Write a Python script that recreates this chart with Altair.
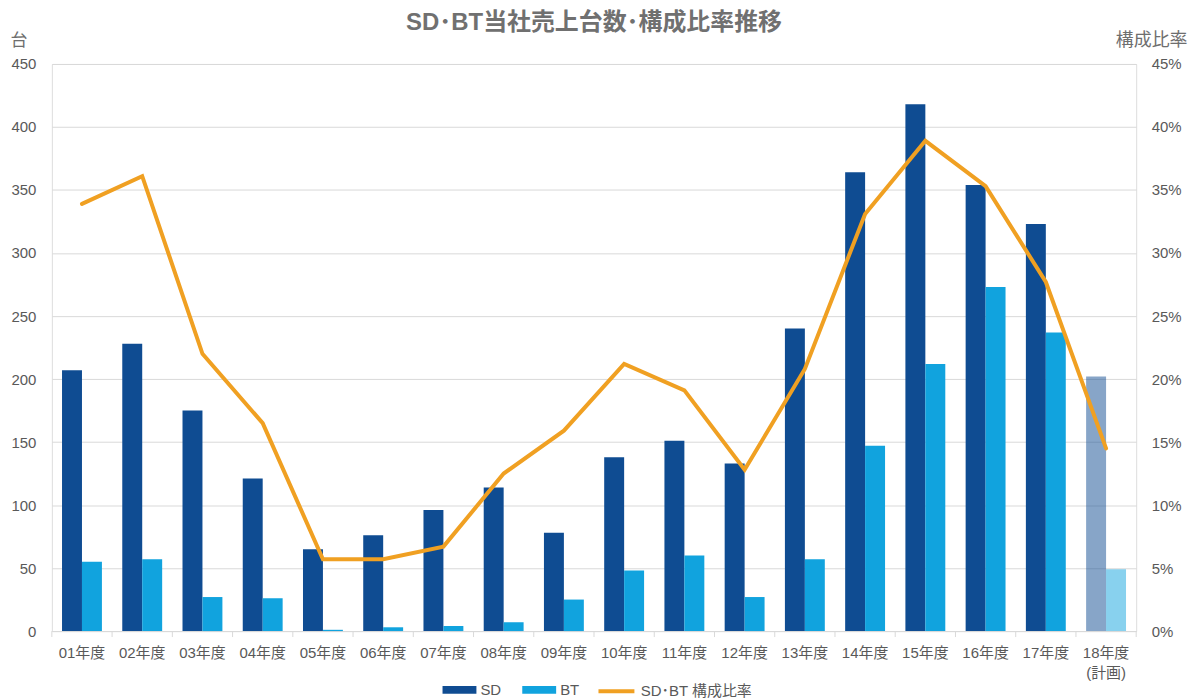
import altair as alt
import pandas as pd

cats = ["01年度", "02年度", "03年度", "04年度", "05年度", "06年度", "07年度", "08年度", "09年度",
        "10年度", "11年度", "12年度", "13年度", "14年度", "15年度", "16年度", "17年度", "18年度|(計画)"]
sd = [207, 228, 175, 121, 65, 76, 96, 114, 78, 138, 151, 133, 240, 364, 418, 354, 323, 202]
bt = [55, 57, 27, 26, 1, 3, 4, 7, 25, 48, 60, 27, 57, 147, 212, 273, 237, 49]
ratio = [0.339, 0.361, 0.220, 0.165, 0.057, 0.057, 0.067, 0.125, 0.159, 0.212, 0.191, 0.128,
         0.208, 0.331, 0.389, 0.353, 0.277, 0.145]
plan_cat = "18年度|(計画)"

FONT = "Liberation Sans, Noto Sans CJK JP, sans-serif"
GRAY = "#595959"

bars = pd.DataFrame(
    [{"cat": c, "series": "SD", "value": v} for c, v in zip(cats, sd)]
    + [{"cat": c, "series": "BT", "value": v} for c, v in zip(cats, bt)]
)
line = pd.DataFrame({"cat": cats, "ratio": ratio, "name": "SD･BT 構成比率"})

W, H = 1088, 569

x_enc = alt.X(
    "cat:N", sort=cats, title=None,
    scale=alt.Scale(paddingInner=0, paddingOuter=0),
    axis=alt.Axis(labelExpr="split(datum.label, '|')", labelAngle=0, labelFontSize=15,
                  labelColor=GRAY, labelFont=FONT, ticks=False, domainColor="#D9D9D9",
                  labelPadding=15, labelLineHeight=20),
)

bar_layer = alt.Chart(bars).mark_bar().encode(
    x=x_enc,
    xOffset=alt.XOffset("series:N", sort=["SD", "BT"],
                        scale=alt.Scale(paddingInner=0, paddingOuter=0.51)),
    y=alt.Y("value:Q", scale=alt.Scale(domain=[0, 450]),
            axis=alt.Axis(values=list(range(0, 451, 50)), title="台", titleAngle=0,
                          titleX=-42, titleY=-15, titleAlign="left", titleFontWeight="normal",
                          titleFontSize=17, titleColor="#6E6E6E", titleFont=FONT,
                          labelFontSize=15, labelColor=GRAY, labelFont=FONT,
                          domain=False, ticks=False, gridColor="#D9D9D9", labelPadding=16)),
    color=alt.Color("series:N", sort=["SD", "BT"],
                    scale=alt.Scale(domain=["SD", "BT"], range=["#0F4C92", "#11A3DE"]),
                    legend=alt.Legend(title=None, orient="none", direction="horizontal",
                                      legendX=398, legendY=H + 48,
                                      symbolType="M-1.7,-0.4H1.7V0.4H-1.7Z", symbolSize=400,
                                      symbolOpacity=1, labelFontSize=15, labelColor=GRAY,
                                      labelFont=FONT, columnPadding=21, labelOffset=10)),
    opacity=alt.condition(alt.datum.cat == plan_cat, alt.value(0.5), alt.value(1.0)),
)

ticks_layer = alt.Chart(line).mark_rule(color="#D9D9D9").encode(
    x=alt.X("cat:N", sort=cats, bandPosition=0),
    y=alt.value(H), y2=alt.value(H + 6),
)
end_tick = alt.Chart(line.head(1)).mark_rule(color="#D9D9D9").encode(
    x=alt.value(W), y=alt.value(H), y2=alt.value(H + 6),
)

line_layer = alt.Chart(line).mark_line(strokeWidth=4, strokeCap="round", strokeJoin="miter").encode(
    x=alt.X("cat:N", sort=cats),
    y=alt.Y("ratio:Q", scale=alt.Scale(domain=[0, 0.45]),
            axis=alt.Axis(orient="right", format=".0%", values=[i / 100 for i in range(0, 46, 5)],
                          title="構成比率", titleAngle=0, titleX=51, titleY=-15, titleAlign="right",
                          titleFontWeight="normal", titleFontSize=18, titleColor="#6E6E6E", titleFont=FONT,
                          labelFontSize=15, labelColor=GRAY, labelFont=FONT,
                          domain=False, ticks=False, grid=False, labelPadding=15)),
    color=alt.Color("name:N", scale=alt.Scale(range=["#F0A022"]),
                    legend=alt.Legend(title=None, orient="none", legendX=546, legendY=H + 40,
                                      symbolType="stroke", symbolSize=1300, symbolStrokeWidth=4,
                                      labelFontSize=15, labelColor=GRAY, labelFont=FONT,
                                      labelOffset=4)),
)

left = alt.layer(bar_layer, ticks_layer, end_tick)
chart = alt.layer(left, line_layer).resolve_scale(
    y="independent", color="independent"
).properties(
    width=W, height=H,
    padding={"left": 2, "top": 2, "right": 5, "bottom": 0},
    title=alt.TitleParams("SD･BT当社売上台数･構成比率推移", fontSize=24, fontWeight="bold",
                          color="#707070", font=FONT, offset=-4),
).configure_view(stroke=None).configure(background="white")

chart.save("out.html", embed_options={"renderer": "svg", "actions": False})
